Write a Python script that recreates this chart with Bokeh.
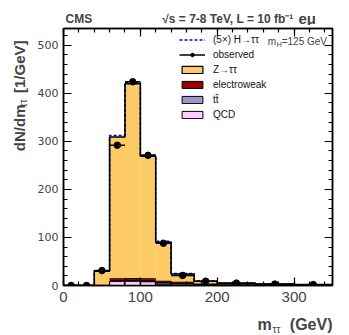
import numpy as np
from bokeh.plotting import figure
from bokeh.layouts import column, row
from bokeh.models import (Range1d, SingleIntervalTicker, LinearAxis, Label,
                          Legend, LegendItem)
from bokeh.embed import file_html
from bokeh.resources import INLINE

# ---------------- data ----------------
bin_edges = [0, 20, 40, 60, 80, 100, 120, 140, 170, 200, 250, 300, 350]
observed = [0, 0, 31, 292, 424, 271, 88, 21, 9, 5, 3, 2]
qcd = [0, 0, 0.5, 9, 9, 8, 3, 1, 0.3, 0.1, 0.05, 0]
ttbar = [0, 0, 0.2, 1, 1.5, 2, 3, 3, 2, 1, 0.5, 0.3]
electroweak = [0, 0, 0.8, 5, 5, 5, 4, 4, 2, 1, 0.5, 0.3]
ztautau = [0, 0, 28.5, 294, 404.5, 254, 80, 16, 4.7, 1.9, 1.45, 0.9]
signal_5x = [0, 0, 0.5, 3, 3, 2.5, 2, 1, 0.5, 0.2, 0.1, 0]

x_ticks_interval = 100
y_ticks_interval = 100

# ---------------- derived ----------------
left = np.array(bin_edges[:-1], dtype=float)
right = np.array(bin_edges[1:], dtype=float)
center = 0.5 * (left + right)
width = right - left

b0 = np.zeros(len(left))
b1 = b0 + np.array(qcd)
b2 = b1 + np.array(ttbar)
b3 = b2 + np.array(electroweak)
b4 = b3 + np.array(ztautau)
b5 = b4 + np.array(signal_5x)

obs = np.array(observed, dtype=float)
err = np.sqrt(obs * width) / width


def step_xy(vals):
    xs, ys = [bin_edges[0]], [0.0]
    for l, r, v in zip(left, right, vals):
        xs += [l, r]
        ys += [v, v]
    xs.append(bin_edges[-1])
    ys.append(0.0)
    return xs, ys


# ---------------- main plot ----------------
p = figure(width=315, height=287, output_backend="svg", toolbar_location=None,
           title=None,
           x_range=Range1d(0, 350), y_range=Range1d(0, 535),
           min_border_left=28, min_border_right=17, min_border_top=3,
           min_border_bottom=27)
p.grid.visible = False
p.outline_line_color = "black"
p.outline_line_width = 1.5

C_Z = "#FDCB66"
C_EW = "#990000"
C_TT = "#9B98CC"
C_QCD = "#FCCBFF"

r_qcd = p.quad(left=left, right=right, bottom=b0, top=b1, fill_color=C_QCD,
               line_color="black", line_width=1)
r_tt = p.quad(left=left, right=right, bottom=b1, top=b2, fill_color=C_TT,
              line_color="black", line_width=1)
r_ew = p.quad(left=left, right=right, bottom=b2, top=b3, fill_color=C_EW,
              line_color="black", line_width=1)
# legend proxy for Z (zero-height boxes on top of the electroweak stack)
r_zleg = p.quad(left=left, right=right, bottom=b3, top=b3, fill_color=C_Z,
                line_color="black", line_width=1.2)
r_z = p.quad(left=left, right=right, bottom=b3, top=b4, fill_color=C_Z,
             line_color=None)

sx, sy = step_xy(b5)
r_sig = p.line(sx, sy, line_color="blue", line_dash="3 2", line_width=1.5)
tx, ty = step_xy(b4)
p.line(tx, ty, line_color="black", line_width=1.6)

r_oh = p.segment(x0=left, x1=right, y0=obs, y1=obs, line_color="black", line_width=1.5)
p.segment(x0=center, x1=center, y0=obs - err, y1=obs + err, line_color="black", line_width=1.5)
r_op = p.scatter(center, obs, size=6.5, marker="circle", fill_color="black", line_color="black")

for ax, iv in ((p.xaxis[0], x_ticks_interval), (p.yaxis[0], y_ticks_interval)):
    ax.ticker = SingleIntervalTicker(interval=iv, num_minor_ticks=5)
    ax.major_tick_in = 8
    ax.major_tick_out = 0
    ax.minor_tick_in = 4
    ax.minor_tick_out = 0
    ax.axis_line_width = 1.5
    ax.major_tick_line_width = 1.2
    ax.minor_tick_line_width = 1.2

p.xaxis.major_label_text_font = "Liberation Sans"
p.xaxis.major_label_text_font_size = "15px"
p.xaxis.major_label_standoff = 6
p.yaxis.major_label_text_font = "DejaVu Sans"
p.yaxis.major_label_text_font_size = "11px"
p.yaxis.major_label_standoff = 5

for loc, iv in (("above", x_ticks_interval), ("right", y_ticks_interval)):
    ax = LinearAxis(ticker=SingleIntervalTicker(interval=iv, num_minor_ticks=5),
                    major_label_text_font_size="1px", major_label_text_color=None,
                    major_tick_in=8,
                    major_tick_out=0, minor_tick_in=4, minor_tick_out=0,
                    axis_line_width=1.5, major_tick_line_width=1.2,
                    minor_tick_line_width=1.2, major_label_standoff=0)
    p.add_layout(ax, loc)

legend = Legend(items=[
    LegendItem(label="(5×) H→ττ", renderers=[r_sig]),
    LegendItem(label="observed", renderers=[r_oh, r_op]),
    LegendItem(label="Z→ττ", renderers=[r_zleg]),
    LegendItem(label="electroweak", renderers=[r_ew]),
    LegendItem(label="tt̄", renderers=[r_tt]),
    LegendItem(label="QCD", renderers=[r_qcd]),
], location=(116, 165), padding=0, margin=0, spacing=4, glyph_height=9,
    glyph_width=26, label_height=9, label_standoff=8,
    label_text_font="Liberation Sans", label_text_font_size="10px",
    label_text_color="#111111",
    border_line_color=None, background_fill_alpha=0)
p.add_layout(legend)


def X(px):
    return (px - 62) / (270 / 350)


def Y(py):
    return (285 - py) / (257 / 535)


def lab(fig, x, y, text, size, bold=False, font="Liberation Sans",
        align="left", angle=0):
    fig.add_layout(Label(x=x, y=y, text=text, text_font=font,
                         text_font_size=size,
                         text_font_style="bold" if bold else "normal",
                         text_align=align, text_baseline="alphabetic",
                         angle=angle))


lab(p, X(267), Y(41), "m", "10px")
lab(p, X(276), Y(44), "H", "7px")
lab(p, X(281), Y(41), "=125 GeV", "10px")


# ---------------- text strips (pixel-coordinate canvases) ----------------
def strip(x0, x1, y0, y1):
    f = figure(width=x1 - x0, height=y1 - y0, output_backend="svg",
               toolbar_location=None, title=None, x_range=Range1d(x0, x1),
               y_range=Range1d(y1, y0), x_axis_type=None, y_axis_type=None,
               min_border=0, min_border_left=0, min_border_right=0,
               min_border_top=0, min_border_bottom=0)
    f.grid.visible = False
    f.outline_line_color = None
    return f


header = strip(0, 349, 0, 25)
lab(header, 65, 18, "CMS", "12px", bold=True)
lab(header, 293, 18, "√s = 7-8 TeV, L = 10 fb⁻¹", "12px", bold=True, align="right")
lab(header, 298, 17.5, "eμ", "15px", bold=True)

ylab = strip(0, 34, 25, 312)
ang = np.pi / 2
lab(ylab, 19, 162, "dN/dm", "15px", bold=True, angle=ang)
lab(ylab, 23, 113, "ττ", "10px", angle=ang)
lab(ylab, 19, 97, "[1/GeV]", "15px", bold=True, angle=ang)

bottom = strip(0, 349, 312, 335)
lab(bottom, 257, 324, "m", "16px", bold=True)
lab(bottom, 272, 329, "ττ", "10px")
lab(bottom, 332, 324, "(GeV)", "16px", bold=True, align="right")

layout = column(header, row(ylab, p, spacing=0), bottom, spacing=0)

open("out.html", "w").write(file_html(layout, INLINE))
